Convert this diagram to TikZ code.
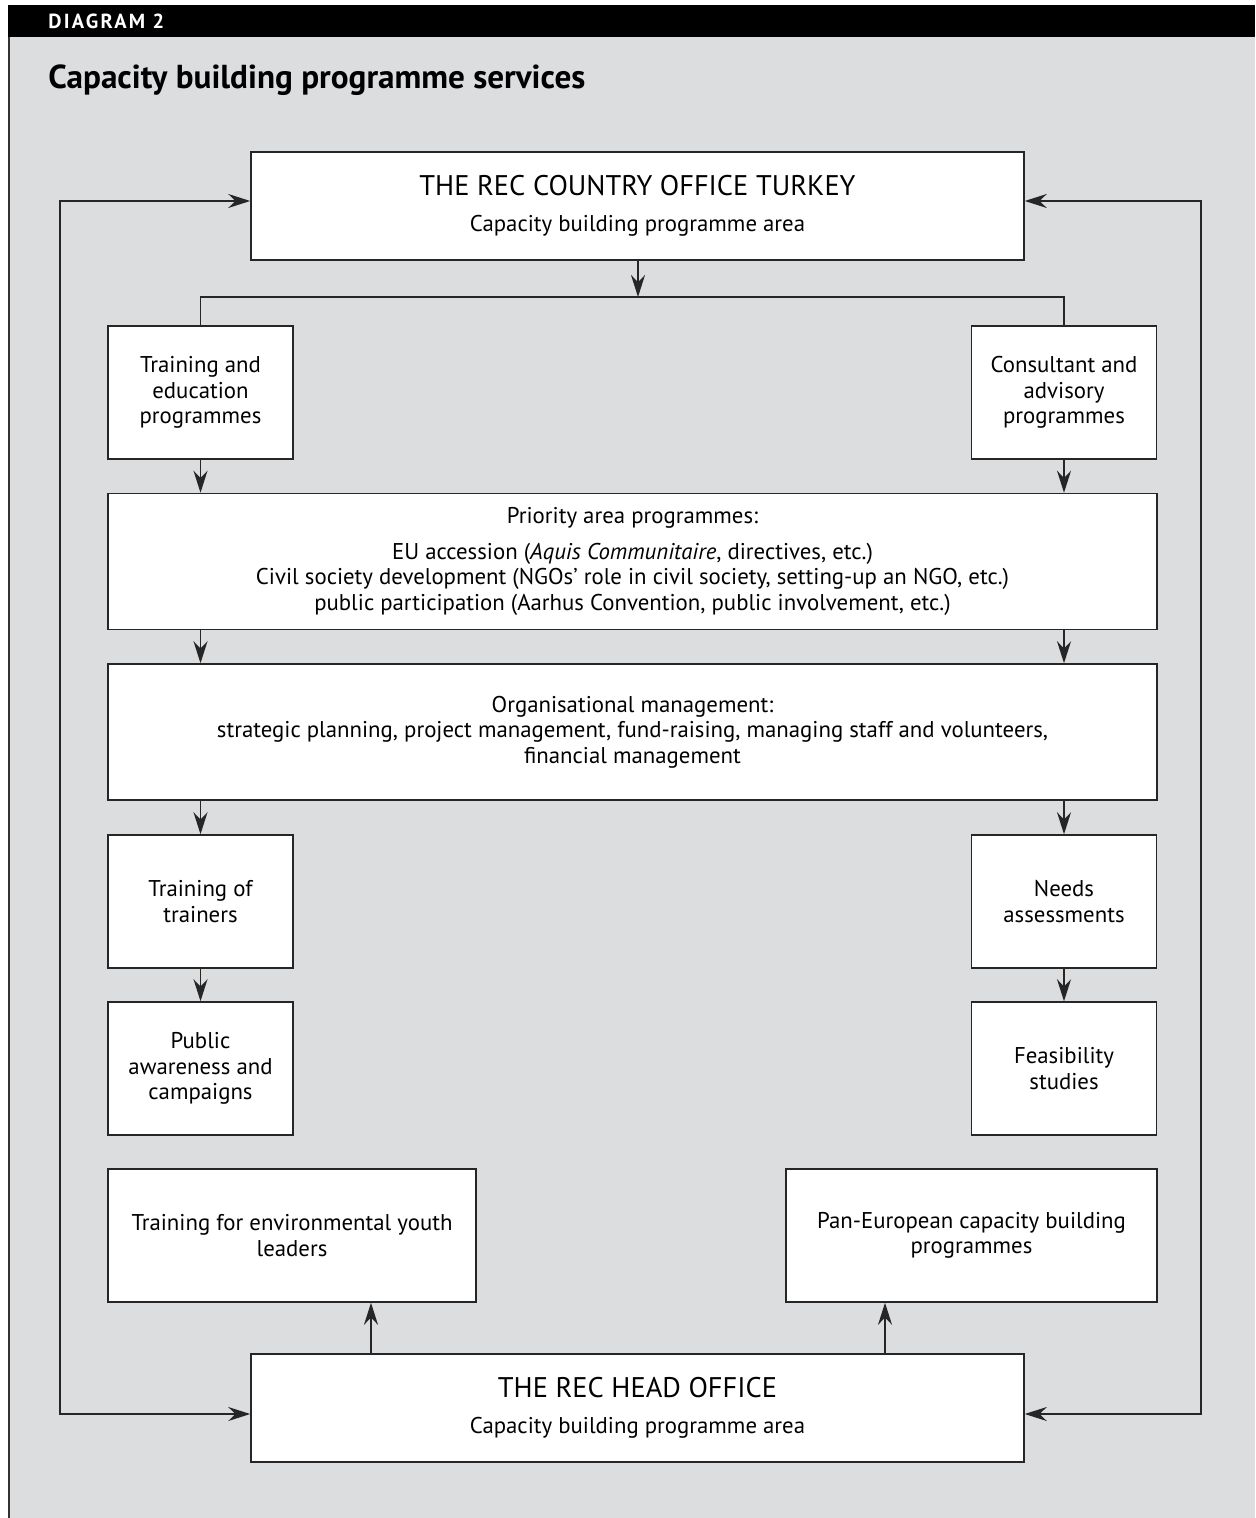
\documentclass[tikz,border=0pt]{standalone}
\usepackage{fontspec}
\setmainfont{PT Sans}
\usetikzlibrary{arrows.meta}

\definecolor{panelgrey}{HTML}{DCDDDF}
\tikzset{
  box/.style={draw=black!85, line width=0.75pt, fill=white, align=center,
    inner sep=2pt, font=\fontsize{11.4}{12.8}\selectfont},
  smallbox/.style={box, minimum width=92.5pt, minimum height=66.5pt},
  widebox/.style={box, minimum width=524.5pt, minimum height=68pt},
  officebox/.style={box, minimum width=386.5pt, minimum height=54pt},
  link/.style={draw=black!85, line width=0.7pt},
  arr/.style={link, -{Stealth[length=11pt,width=7pt]}},
  dblarr/.style={link, {Stealth[length=11pt,width=7pt]}-{Stealth[length=11pt,width=7pt]}}
}

\begin{document}
\begin{tikzpicture}[x=0.5pt,y=-0.5pt]

\useasboundingbox (0,0) rectangle (1255,1518);

% Frame
\fill[panelgrey] (9,37) rectangle (1255,1518);
\fill[black] (8,5) rectangle (1255,37);
\draw[black!80, line width=0.7pt] (9,37) -- (9,1518);
\node[anchor=west, inner sep=0pt, text=white, font=\fontsize{10.2}{11}\selectfont\bfseries\addfontfeature{LetterSpace=11}] (tag) at (48,21) {DIAGRAM 2};
\node[anchor=west, inner sep=0pt, font=\fontsize{16.6}{19}\selectfont\bfseries] (title) at (48,80) {Capacity building programme services};

% Offices
\node[officebox] (country) at (637.5,206) {{\fontsize{14.2}{16}\selectfont THE REC COUNTRY OFFICE TURKEY}\\[5pt]Capacity building programme area};
\node[officebox] (head) at (637.5,1408) {{\fontsize{14.2}{16}\selectfont THE REC HEAD OFFICE}\\[5pt]Capacity building programme area};

% Side boxes
\node[smallbox] (train) at (200.5,392.5) {Training and\\education\\programmes};
\node[smallbox] (consult) at (1064,392.5) {Consultant and\\advisory\\programmes};
\node[smallbox] (trainers) at (200.5,901.5) {Training of\\trainers};
\node[smallbox] (needs) at (1064,901.5) {Needs\\assessments};
\node[smallbox] (aware) at (200.5,1068.5) {Public\\awareness and\\campaigns};
\node[smallbox] (feas) at (1064,1068.5) {Feasibility\\studies};

% Wide boxes
\node[widebox] (prio) at (632.5,561.5) {Priority area programmes:\\[5pt]
  EU accession (\textit{Aquis Communitaire}, directives, etc.)\\
  Civil society development (NGOs’ role in civil society, setting-up an NGO, etc.)\\
  public participation (Aarhus Convention, public involvement, etc.)};
\node[widebox] (org) at (632.5,732) {Organisational management:\\
  strategic planning, project management, fund-raising, managing staff and volunteers,\\
  financial management};

% Bottom boxes
\node[box, minimum width=184pt, minimum height=66.5pt] (youth) at (292,1235.5) {Training for environmental youth\\leaders};
\node[box, minimum width=185.5pt, minimum height=66.5pt] (paneu) at (971.5,1235.5) {Pan-European capacity building\\programmes};

% Split below country office
\coordinate (split) at (638,297);
\draw[arr] (country.south -| split) -- (split);
\draw[link] (train.north) |- (split) -| (consult.north);

% Down the left column
\draw[arr] (train.south) -- (train.south |- prio.north);
\draw[arr] (prio.south -| train.south) -- (org.north -| train.south);
\draw[arr] (org.south -| train.south) -- (trainers.north);
\draw[arr] (trainers.south) -- (aware.north);

% Down the right column
\draw[arr] (consult.south) -- (consult.south |- prio.north);
\draw[arr] (prio.south -| consult.south) -- (org.north -| consult.south);
\draw[arr] (org.south -| consult.south) -- (needs.north);
\draw[arr] (needs.south) -- (feas.north);

% Head office up
\draw[arr] (head.north -| 371,0) -- (youth.south -| 371,0);
\draw[arr] (head.north -| 885,0) -- (paneu.south -| 885,0);

% Loops
\draw[dblarr] (country.west |- 0,201) -| (60,800) |- (head.west |- 0,1414);
\draw[dblarr] (country.east |- 0,201) -| (1201,800) |- (head.east |- 0,1414);

\end{tikzpicture}
\end{document}
